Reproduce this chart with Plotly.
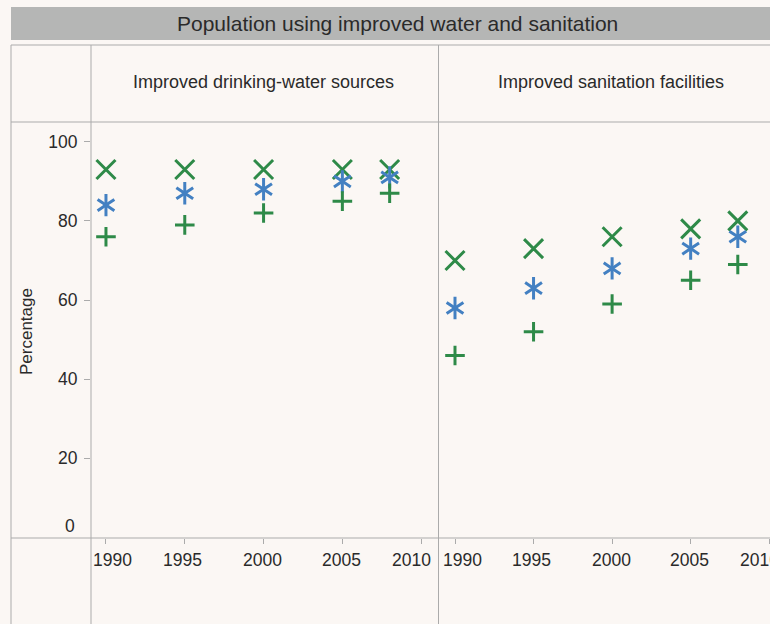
import plotly.graph_objects as go

# survey years
years = [1990, 1995, 2000, 2005, 2008]

# improved drinking-water sources (%)
water_urban = [93, 93, 93, 93, 93]
water_total = [84, 87, 88, 90, 91]
water_rural = [76, 79, 82, 85, 87]

# improved sanitation facilities (%)
san_urban = [70, 73, 76, 78, 80]
san_total = [58, 63, 68, 73, 76]
san_rural = [46, 52, 59, 65, 69]

panel_titles = ["Improved drinking-water sources", "Improved sanitation facilities"]
x_ticks = [1990, 1995, 2000, 2005, 2010]
y_ticks = [20, 40, 60, 80, 100]

W, H = 770, 624
GREEN = "#2e8a48"
BLUE = "#4380c2"
LINE = "#ababab"
TEXT = "#2a2a2a"
FONT = "Liberation Sans, Arial, sans-serif"


def px(x):
    return x / W


def py(y):
    return 1 - y / H


fig = go.Figure()


def add_panel(xa, ya, urban, total, rural):
    fig.add_trace(go.Scatter(
        x=years, y=urban, xaxis=xa, yaxis=ya, mode="markers",
        marker=dict(symbol="x-thin-open", size=19, color=GREEN,
                    line=dict(width=3, color=GREEN)),
    ))
    # six-armed asterisk = y-up + y-down
    for sym in ["y-up-open", "y-down-open"]:
        fig.add_trace(go.Scatter(
            x=years, y=total, xaxis=xa, yaxis=ya, mode="markers",
            marker=dict(symbol=sym, size=14, color=BLUE,
                        line=dict(width=3, color=BLUE)),
        ))
    fig.add_trace(go.Scatter(
        x=years, y=rural, xaxis=xa, yaxis=ya, mode="markers",
        marker=dict(symbol="cross-thin-open", size=14, color=GREEN,
                    line=dict(width=3, color=GREEN)),
    ))


add_panel("x", "y", water_urban, water_total, water_rural)
add_panel("x2", "y2", san_urban, san_total, san_rural)

y_dom = [py(538), py(122)]
x_common = dict(
    tickvals=x_ticks, ticks="outside", ticklen=5, tickcolor=LINE,
    showgrid=False, zeroline=False, showline=False, showticklabels=False,
)
y_common = dict(
    domain=y_dom, range=[-0.13, 105], showgrid=False, zeroline=False,
    showline=False,
)

shapes = [
    # title banner
    dict(type="rect", xref="paper", yref="paper", x0=px(11), x1=1,
         y0=py(40), y1=py(7), fillcolor="#b5b6b5", line=dict(width=0)),
]
for x in [11, 91, 438.5]:
    shapes.append(dict(type="line", xref="paper", yref="paper",
                       x0=px(x), x1=px(x), y0=0, y1=py(45),
                       line=dict(color=LINE, width=1)))
for y in [45, 122, 538]:
    shapes.append(dict(type="line", xref="paper", yref="paper",
                       x0=px(11), x1=1, y0=py(y), y1=py(y),
                       line=dict(color=LINE, width=1)))

annotations = [
    dict(text="Population using improved water and sanitation",
         x=px(397), y=py(24), font=dict(size=21)),
    dict(text=panel_titles[0], x=px(263), y=py(82), font=dict(size=18)),
    dict(text=panel_titles[1], x=px(611), y=py(82), font=dict(size=18)),
    dict(text="Percentage", x=px(26), y=py(331), textangle=-90,
         font=dict(size=17)),
    dict(text="0", x=px(77), y=py(526), xanchor="right",
         font=dict(size=17.5)),
]
for a in annotations:
    a.update(xref="paper", showarrow=False)
    a.setdefault("xanchor", "center")

# year labels, end labels pulled inside their panel
label_shift = [7, -2, -1, -1, -10]
for xa in ["x", "x2"]:
    for yr, sh in zip(x_ticks, label_shift):
        annotations.append(dict(
            text=str(yr), x=yr, xref=xa, y=py(560), xshift=sh,
            xanchor="center", showarrow=False, font=dict(size=17.5),
        ))

for a in annotations:
    a["yref"] = "paper"
    a["yanchor"] = "middle"
    a["font"].update(color=TEXT, family=FONT)

fig.update_layout(
    width=W, height=H,
    margin=dict(l=0, r=0, t=0, b=0),
    paper_bgcolor="#fbf7f4",
    plot_bgcolor="rgba(0,0,0,0)",
    showlegend=False,
    font=dict(family=FONT, color=TEXT),
    xaxis=dict(domain=[px(91), px(438.5)], range=[1989.05, 2011.1],
               anchor="y", **x_common),
    xaxis2=dict(domain=[px(438.5), 1], range=[1988.95, 2010.05],
                anchor="y2", **x_common),
    yaxis=dict(anchor="x", tickvals=y_ticks, ticks="outside", ticklen=6,
               tickcolor=LINE, ticklabelstandoff=3,
               tickfont=dict(size=17.5, color=TEXT, family=FONT), **y_common),
    yaxis2=dict(anchor="x2", matches="y", showticklabels=False, **y_common),
    shapes=shapes,
    annotations=annotations,
)

# drop the default page margin so the figure fills the window
fig.write_html(
    "out.html",
    config={"displayModeBar": False},
    post_script="document.body.style.margin='0';"
                "document.body.style.overflow='hidden';",
)
